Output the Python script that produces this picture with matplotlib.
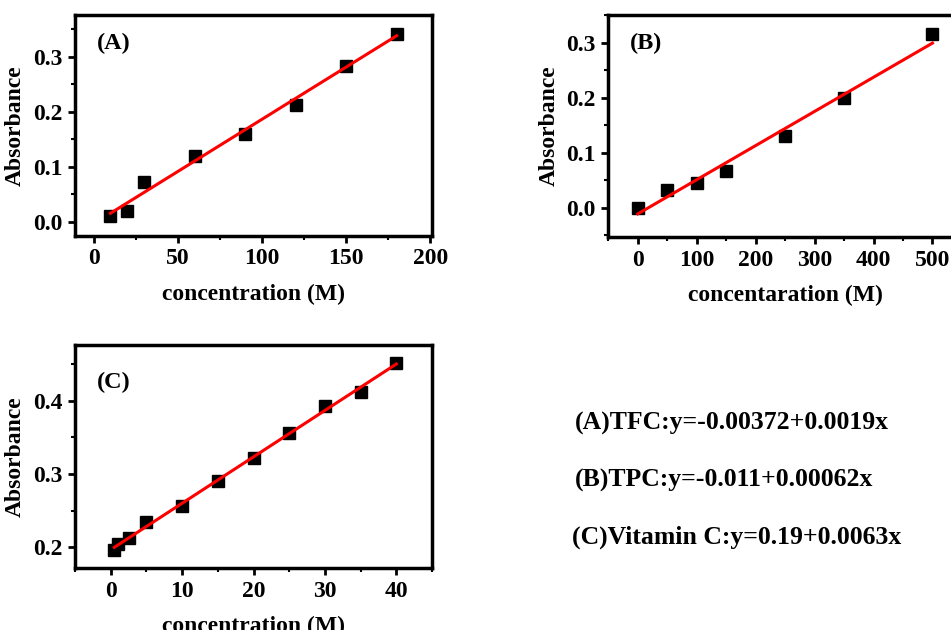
import numpy as np
import matplotlib.pyplot as plt
from matplotlib.ticker import MultipleLocator

plt.rcParams['font.family'] = ['Liberation Serif', 'DejaVu Serif']
plt.rcParams['font.weight'] = 'bold'
plt.rcParams['axes.labelweight'] = 'bold'

# --- data ---
conc_a = [10, 20, 30, 60, 90, 120, 150, 180]
abs_a = [0.010, 0.020, 0.073, 0.120, 0.160, 0.213, 0.284, 0.342]

conc_b = [0, 50, 100, 150, 250, 350, 500]
abs_b = [0.0, 0.033, 0.045, 0.067, 0.130, 0.199, 0.315]

conc_c = [0.5, 1, 2.5, 5, 10, 15, 20, 25, 30, 35, 40]
abs_c = [0.196, 0.205, 0.213, 0.235, 0.257, 0.290, 0.322, 0.356, 0.393, 0.412, 0.452]

fit_a = (-0.00372, 0.0019)
fit_b = (-0.011, 0.00062)

equations = ['(A)TFC:y=-0.00372+0.0019x',
             '(B)TPC:y=-0.011+0.00062x',
             '(C)Vitamin C:y=0.19+0.0063x']

fig = plt.figure(figsize=(9.51, 6.3), dpi=100)

ax_a = fig.add_axes([0.0789, 0.6254, 0.3754, 0.3508])
ax_b = fig.add_axes([0.6397, 0.6238, 0.3718, 0.3524])
ax_c = fig.add_axes([0.0789, 0.0984, 0.3754, 0.3540])


def style(ax, xl, yl, xmaj, ymaj, xlabel, tag, tag_y):
    ax.set_xlim(*xl)
    ax.set_ylim(*yl)
    ax.xaxis.set_major_locator(MultipleLocator(xmaj))
    ax.xaxis.set_minor_locator(MultipleLocator(xmaj / 2))
    ax.yaxis.set_major_locator(MultipleLocator(ymaj))
    ax.yaxis.set_minor_locator(MultipleLocator(ymaj / 2))
    ax.yaxis.set_major_formatter(plt.FormatStrFormatter('%.1f'))
    for s in ax.spines.values():
        s.set_linewidth(2.5)
    ax.tick_params(which='major', direction='out', length=5, width=2,
                   labelsize=17, pad=4, top=False, right=False)
    ax.tick_params(which='minor', direction='out', length=3, width=1.5,
                   top=False, right=False)
    ax.set_xlabel(xlabel, fontsize=17, labelpad=10)
    ax.set_ylabel('Absorbance', fontsize=17, labelpad=5)
    ax.text(0.06, tag_y, tag, transform=ax.transAxes, fontsize=17.5,
            fontweight='bold', va='center')


# (A)
ax_a.plot(conc_a, abs_a, 's', color='black', markersize=8)
xa = np.array([conc_a[0], conc_a[-1]])
ax_a.plot(xa, fit_a[0] + fit_a[1] * xa, color='red', lw=2.2)
style(ax_a, (-11, 201), (-0.026, 0.376), 50, 0.1, 'concentration (M)', '(A)', 0.873)

# (B)
ax_b.plot(conc_b, abs_b, 's', color='black', markersize=8)
xb = np.array([conc_b[0], conc_b[-1]])
ax_b.plot(xb, fit_b[0] + fit_b[1] * xb, color='red', lw=2.2)
style(ax_b, (-50, 550), (-0.053, 0.35), 100, 0.1, 'concentaration (M)', '(B)', 0.873)

# (C)
ax_c.plot(conc_c, abs_c, 's', color='black', markersize=8)
k, b = np.polyfit(conc_c, abs_c, 1)
xc = np.array([conc_c[0], conc_c[-1]])
ax_c.plot(xc, b + k * xc, color='red', lw=2.2)
style(ax_c, (-5, 45), (0.172, 0.476), 10, 0.1, 'concentration (M)', '(C)', 0.83)

# equations
for i, eq in enumerate(equations):
    fig.text(0.605 - (0.004 if i == 2 else 0), 1 - (423 + 57 * i) / 630, eq,
             fontsize=18.5, fontweight='bold', va='center', ha='left')

fig.savefig('out.png', dpi=100)
